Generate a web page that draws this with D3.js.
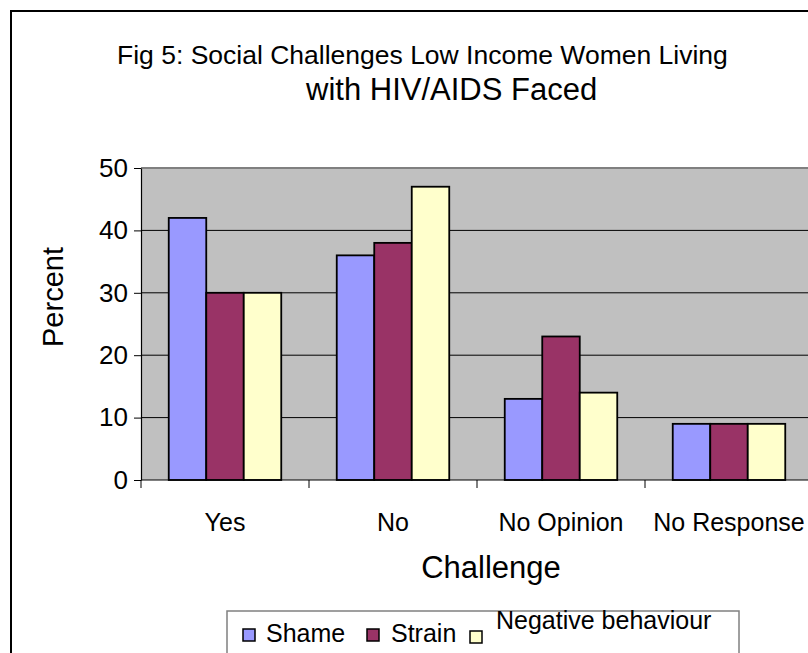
<!DOCTYPE html>
<html>
<head>
<meta charset="utf-8">
<script src="https://cdn.jsdelivr.net/npm/d3@7"></script>
<style>
  html, body { margin: 0; padding: 0; background: #fff; overflow: hidden; }
  svg { display: block; font-family: Arial, "Liberation Sans", sans-serif; }
</style>
</head>
<body>
<svg id="chart" width="808" height="653"></svg>
<script>
// Survey answers and the share (%) of each social challenge per answer
const categories = ["Yes", "No", "No Opinion", "No Response"];
const seriesNames = ["Shame", "Strain", "Negative behaviour"];
const shame = [42, 36, 13, 9];
const strain = [30, 38, 23, 9];
const negativeBehaviour = [30, 47, 14, 9];
const yTicks = [0, 10, 20, 30, 40, 50];
const seriesValues = [shame, strain, negativeBehaviour];
const colors = ["#9999FF", "#993366", "#FFFFCC"];

const svg = d3.select("#chart");

// outer chart frame
svg.append("rect")
  .attr("x", 11).attr("y", 11)
  .attr("width", 830).attr("height", 680)
  .attr("fill", "#fff").attr("stroke", "#000").attr("stroke-width", 2);

// layout of the plot area
const plot = { left: 141, top: 168, bottom: 480, band: 168 };
plot.right = plot.left + plot.band * categories.length;

const x = d3.scaleBand().domain(categories).range([plot.left, plot.right]).paddingInner(0).paddingOuter(0);
const xInner = d3.scaleBand().domain(seriesNames).range([0, x.bandwidth()]).paddingOuter(0.74).paddingInner(0);
const y = d3.scaleLinear().domain([0, 50]).range([plot.bottom, plot.top]);

// grey plot background
svg.append("rect")
  .attr("x", plot.left).attr("y", plot.top)
  .attr("width", plot.right - plot.left).attr("height", plot.bottom - plot.top)
  .attr("fill", "#C0C0C0");

// horizontal gridlines
svg.append("g")
  .selectAll("line")
  .data(yTicks.filter(t => t > 0 && t < 50))
  .join("line")
  .attr("x1", plot.left).attr("x2", plot.right)
  .attr("y1", d => y(d)).attr("y2", d => y(d))
  .attr("stroke", "#000").attr("stroke-width", 1);

// plot area top border
svg.append("line")
  .attr("x1", plot.left).attr("x2", plot.right)
  .attr("y1", y(50)).attr("y2", y(50))
  .attr("stroke", "#808080").attr("stroke-width", 2);

// bars
const groups = svg.append("g")
  .selectAll("g")
  .data(categories)
  .join("g")
  .attr("transform", d => `translate(${x(d)},0)`);

groups.selectAll("rect")
  .data((c, i) => seriesNames.map((s, j) => ({ s, v: seriesValues[j][i], j })))
  .join("rect")
  .attr("x", d => xInner(d.s))
  .attr("y", d => y(d.v))
  .attr("width", xInner.bandwidth())
  .attr("height", d => y(0) - y(d.v))
  .attr("fill", d => colors[d.j])
  .attr("stroke", "#000")
  .attr("stroke-width", 1.8);

// y axis
const yAxis = d3.axisLeft(y).tickValues(yTicks).tickSize(7).tickPadding(6).tickSizeOuter(0);
const gy = svg.append("g").attr("transform", `translate(${plot.left},0)`).call(yAxis);
gy.select(".domain").attr("stroke", "#000").attr("stroke-width", 1.2);
gy.selectAll(".tick line").attr("stroke", "#000");
gy.selectAll(".tick text")
  .attr("font-size", 26).attr("fill", "#000")
  .attr("font-family", "Arial, 'Liberation Sans', sans-serif");

// x axis line with ticks between categories
svg.append("line")
  .attr("x1", plot.left).attr("x2", plot.right)
  .attr("y1", plot.bottom).attr("y2", plot.bottom)
  .attr("stroke", "#000").attr("stroke-width", 1.2);
svg.append("g")
  .selectAll("line")
  .data(categories)
  .join("line")
  .attr("x1", d => x(d)).attr("x2", d => x(d))
  .attr("y1", plot.bottom).attr("y2", plot.bottom + 8)
  .attr("stroke", "#000");

// category labels
svg.append("g")
  .selectAll("text")
  .data(categories)
  .join("text")
  .attr("x", d => x(d) + x.bandwidth() / 2)
  .attr("y", 531)
  .attr("text-anchor", "middle")
  .attr("font-size", 25)
  .text(d => d);

// axis titles
svg.append("text")
  .attr("x", 491).attr("y", 578)
  .attr("text-anchor", "middle")
  .attr("font-size", 31)
  .text("Challenge");

svg.append("text")
  .attr("transform", "translate(63,297) rotate(-90)")
  .attr("text-anchor", "middle")
  .attr("font-size", 29)
  .text("Percent");

// chart title
svg.append("text")
  .attr("x", 117).attr("y", 64)
  .attr("font-size", 26.5)
  .text("Fig 5: Social Challenges Low Income Women Living");
svg.append("text")
  .attr("x", 306).attr("y", 100)
  .attr("font-size", 31)
  .text("with HIV/AIDS Faced");

// legend
const legend = svg.append("g");
legend.append("rect")
  .attr("x", 227).attr("y", 611)
  .attr("width", 512).attr("height", 60)
  .attr("fill", "#fff").attr("stroke", "#808080").attr("stroke-width", 1.5);

const legendItems = [
  { name: seriesNames[0], sx: 243, sy: 629, tx: 266, ty: 642 },
  { name: seriesNames[1], sx: 367, sy: 629, tx: 391, ty: 642 },
  { name: seriesNames[2], sx: 470, sy: 631, tx: 496, ty: 629 }
];
legend.selectAll("rect.key")
  .data(legendItems)
  .join("rect")
  .attr("class", "key")
  .attr("x", d => d.sx).attr("y", d => d.sy)
  .attr("width", 12).attr("height", 12)
  .attr("fill", (d, i) => colors[i])
  .attr("stroke", "#000").attr("stroke-width", 1.5);
legend.selectAll("text")
  .data(legendItems)
  .join("text")
  .attr("x", d => d.tx).attr("y", d => d.ty)
  .attr("font-size", 25)
  .text(d => d.name);
</script>
</body>
</html>
